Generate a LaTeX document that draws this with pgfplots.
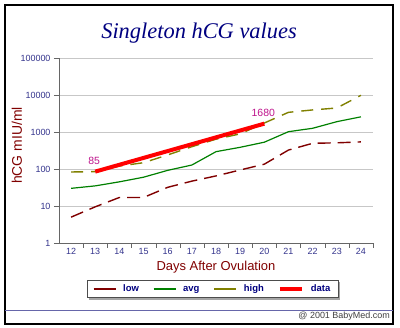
\documentclass[border=0pt]{standalone}
\usepackage{pgfplots}
\pgfplotsset{compat=1.18}
\usepackage{fontspec}
\setmainfont{Liberation Sans}
\newfontfamily\titlefont{Liberation Serif}
\usetikzlibrary{backgrounds}
\definecolor{lowc}{RGB}{128,0,0}
\definecolor{avgc}{RGB}{0,128,0}
\definecolor{highc}{RGB}{128,128,0}
\definecolor{datac}{RGB}{255,0,0}
\definecolor{navy}{RGB}{0,0,128}
\definecolor{tickc}{RGB}{51,51,140}
\definecolor{labc}{RGB}{128,0,0}
\definecolor{annc}{RGB}{190,20,140}
\definecolor{rulec}{RGB}{102,102,170}
\begin{document}
\begin{tikzpicture}[x=1bp,y=1bp]
\path[use as bounding box] (0,0) rectangle (400,328);
\draw[line width=2bp, black] (5,4) rectangle (393,323);
\draw[rulec, line width=0.8bp] (5,18) -- (393,18);
\node[anchor=east, font=\fontsize{9}{10}\selectfont, text=black!75, inner sep=0] at (390,12) {@ 2001 BabyMed.com};
\begin{axis}[
  at={(59bp,85bp)}, anchor=south west,
  width=314bp, height=185bp, scale only axis,
  xmin=11.5, xmax=24.5,
  ymode=log, ymin=1, ymax=100000,
  ytick={1,10,100,1000,10000,100000},
  yticklabels={1,10,100,1000,10000,100000},
  xtick={12,13,14,15,16,17,18,19,20,21,22,23,24},
  xticklabels={12,13,14,15,16,17,18,19,20,21,22,23,24},
  minor xtick={12.5,13.5,14.5,15.5,16.5,17.5,18.5,19.5,20.5,21.5,22.5,23.5,24.5},
  yminorticks=false,
  /pgf/number format/assume math mode=true,
  axis x line*=bottom, axis y line*=left,
  axis line style={draw=black!60, -},
  tick align=outside,
  major tick length=5bp, minor tick length=5bp,
  major x tick style={draw=none},
  minor x tick style={draw=black!60},
  major y tick style={draw=black!60},
  ymajorgrids,
  major y grid style={draw=black!22, line width=0.7bp},
  tick label style={font=\fontsize{9}{10}\selectfont, text=tickc},
  xticklabel style={yshift=3bp},
  every axis title shift=0pt,
  title={\titlefont\itshape Singleton hCG values},
  title style={at={(axis description cs:0.446,1.135)}, anchor=center, font=\fontsize{22.5}{24}\selectfont, text=navy},
  ylabel={hCG mIU/ml},
  ylabel style={at={(axis description cs:-0.134,0.527)}, anchor=center, font=\fontsize{14}{16}\selectfont, text=labc},
  xlabel={Days After Ovulation},
  xlabel style={at={(axis description cs:0.5,-0.13)}, anchor=center, font=\fontsize{13}{15}\selectfont, text=labc},
  legend columns=4,
  legend image code/.code={\draw[#1, solid] (0bp,0bp) -- (22bp,0bp);},
  legend style={at={(axis description cs:0.489,-0.249)}, anchor=center, name=leg,
    draw=black!70, fill=white,
    font=\fontsize{9.5}{11}\selectfont\bfseries, text=navy,
    nodes={text height=7bp, text depth=2bp},
    inner xsep=6bp, inner ysep=2bp,
    /tikz/every odd column/.append style={column sep=5bp},
    /tikz/every even column/.append style={column sep=12bp}},
]
\addplot[lowc, line width=1.4bp, dash pattern=on 13bp off 7bp] coordinates {
(12,5) (13,9.5) (14,17) (15,17) (16,32) (17,47) (18,65) (19,94) (20,135) (21,325) (22,495) (23,510) (24,540)};
\addlegendentry{low}
\addplot[avgc, line width=1.2bp] coordinates {
(12,30) (13,35) (14,45) (15,60) (16,92) (17,128) (18,294) (19,386) (20,530) (21,1020) (22,1260) (23,1900) (24,2570)};
\addlegendentry{avg}
\addplot[highc, line width=1.4bp, dash pattern=on 12bp off 8bp] coordinates {
(12,83) (13,85) (14,120) (15,148) (16,240) (17,400) (18,640) (19,890) (20,1750) (21,3400) (22,3950) (23,4450) (24,9800)};
\addlegendentry{high}
\addplot[datac, line width=4bp, nodes near coords, point meta=explicit symbolic,
  every node near coord/.append style={font=\fontsize{10.5}{12}\selectfont, text=annc, anchor=center, yshift=11bp, xshift=-1bp}]
  coordinates {(13,85) [85] (20,1680) [1680]};
\addlegendentry{data}
\end{axis}
\begin{scope}[on background layer]
\fill[black!35] ([shift={(2bp,-2bp)}]leg.south west) rectangle ([shift={(2bp,-2bp)}]leg.north east);
\end{scope}
\end{tikzpicture}
\end{document}
